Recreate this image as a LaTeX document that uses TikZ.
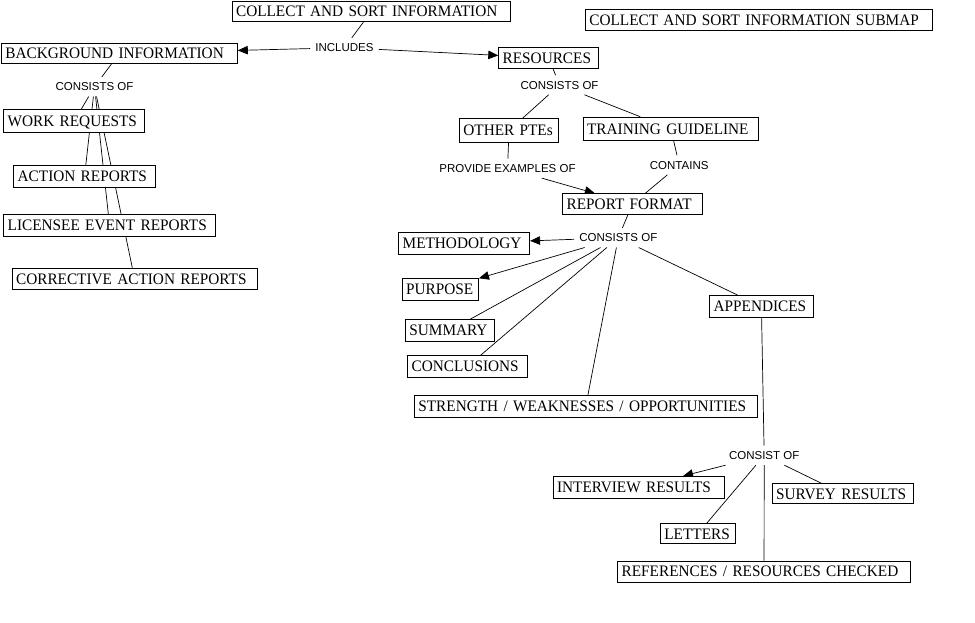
\documentclass[tikz,border=0pt]{standalone}
\usepackage{fontspec}
\setmainfont{Liberation Serif}[FakeStretch=0.955]
\newfontfamily\cmsans{Liberation Sans}
\newcommand\cmboxfont{\fontsize{16pt}{18pt}\selectfont}
\newcommand\cmlabfont{\cmsans\fontsize{11.5pt}{13pt}\selectfont}
\usetikzlibrary{backgrounds,arrows.meta}
\begin{document}
\begin{tikzpicture}[x=1pt,y=-1pt,
  bx/.style={draw, fill=white, line width=0.8pt, anchor=north west, font=\cmboxfont,
    inner xsep=4pt, inner ysep=0pt, text height=10.6pt, text depth=0pt, align=left},
  lb/.style={font=\cmlabfont, inner xsep=5pt, inner ysep=5.5pt, text height=8.2pt, text depth=0pt, anchor=center},
  link/.style={line width=0.7pt},
  arr/.style={line width=0.7pt, -{Triangle[length=10pt,width=8.5pt]}}]
\useasboundingbox (0,0) rectangle (975,622);
% concepts
\node[bx, text width=270.3pt, minimum height=20.3pt] (csi) at (231.7,1) {\mbox{COLLECT AND SORT INFORMATION}};
\node[bx, text width=338.7pt, minimum height=21pt] (sub) at (585,9) {\mbox{COLLECT AND SORT INFORMATION SUBMAP}};
\node[bx, text width=228pt, minimum height=20.6pt] (bg) at (1,42.7) {\mbox{BACKGROUND INFORMATION}};
\node[bx, text width=92pt, minimum height=21.6pt] (res) at (498.3,46.7) {\mbox{RESOURCES}};
\node[bx, text width=133pt, minimum height=23pt] (wr) at (3.3,109.3) {\mbox{WORK REQUESTS}};
\node[bx, text width=133.7pt, minimum height=21.7pt] (ar) at (13.3,165) {\mbox{ACTION REPORTS}};
\node[bx, text width=203.7pt, minimum height=21.7pt] (ler) at (3.3,214) {\mbox{LICENSEE EVENT REPORTS}};
\node[bx, text width=237pt, minimum height=21.3pt] (car) at (11.7,267.7) {\mbox{CORRECTIVE ACTION REPORTS}};
\node[bx, text width=91.3pt, minimum height=23.4pt] (opte) at (459,118.3) {\mbox{OTHER PTEs}};
\node[bx, text width=167.6pt, minimum height=23.3pt] (tg) at (582.7,116.7) {\mbox{TRAINING GUIDELINE}};
\node[bx, text width=131.4pt, minimum height=20.7pt] (rf) at (562.3,193.3) {\mbox{REPORT FORMAT}};
\node[bx, text width=123pt, minimum height=22.3pt] (meth) at (398.3,231.7) {\mbox{METHODOLOGY}};
\node[bx, text width=68.6pt, minimum height=21.7pt] (pur) at (401.7,278.3) {\mbox{PURPOSE}};
\node[bx, text width=81pt, minimum height=21.4pt] (sum) at (405,319.3) {\mbox{SUMMARY}};
\node[bx, text width=111.4pt, minimum height=22.3pt] (con) at (407.3,355) {\mbox{CONCLUSIONS}};
\node[bx, text width=334.7pt, minimum height=21.7pt] (swo) at (414,395) {\mbox{STRENGTH / WEAKNESSES / OPPORTUNITIES}};
\node[bx, text width=95.4pt, minimum height=22.3pt] (app) at (709.3,295) {\mbox{APPENDICES}};
\node[bx, text width=163.3pt, minimum height=21.7pt] (ir) at (552.7,476) {\mbox{INTERVIEW RESULTS}};
\node[bx, text width=67pt, minimum height=20pt] (let) at (660,523.3) {\mbox{LETTERS}};
\node[bx, text width=284.7pt, minimum height=21pt] (ref) at (617.3,560.7) {\mbox{REFERENCES / RESOURCES CHECKED}};
\node[bx, text width=133.6pt, minimum height=20pt] (sur) at (771.7,483.3) {\mbox{SURVEY RESULTS}};
% linking phrases
\node[lb] (inc) at (344.5,47.7) {INCLUDES};
\node[lb] (cons1) at (94.5,86.7) {CONSISTS OF};
\node[lb] (cons2) at (559.5,85) {CONSISTS OF};
\node[lb] (prov) at (507.5,168.3) {PROVIDE EXAMPLES OF};
\node[lb] (cont) at (679.2,165) {CONTAINS};
\node[lb] (cons3) at (618.3,237.7) {CONSISTS OF};
\node[lb] (cons4) at (764.2,455.4) {CONSIST OF};
% connectors
\begin{scope}[on background layer]
\draw[link] (csi) -- (inc);
\draw[arr] (inc) -- (bg);
\draw[arr] (inc) -- (res);
\draw[link] (bg) -- (cons1);
\draw[link] (cons1) -- (wr);
\draw[link] (cons1) -- (ar);
\draw[link] (cons1) -- (ler);
\draw[link] (cons1) -- (car);
\draw[link] (res) -- (cons2);
\draw[link] (cons2) -- (opte);
\draw[link] (cons2) -- (tg);
\draw[link] (opte) -- (prov);
\draw[arr] (prov) -- (rf);
\draw[link] (tg) -- (cont);
\draw[link] (cont) -- (rf);
\draw[link] (rf) -- (cons3);
\draw[arr] (cons3) -- (meth);
\draw[arr] (cons3) -- (pur);
\draw[link] (cons3) -- (sum);
\draw[link] (cons3) -- (con);
\draw[link] (cons3) -- (swo);
\draw[link] (cons3) -- (app);
\draw[link] (app) -- (cons4);
\draw[arr] (cons4) -- (ir);
\draw[link] (cons4) -- (let);
\draw[link] (cons4) -- (ref);
\draw[link] (cons4) -- (sur);
\end{scope}
\end{tikzpicture}
\end{document}
